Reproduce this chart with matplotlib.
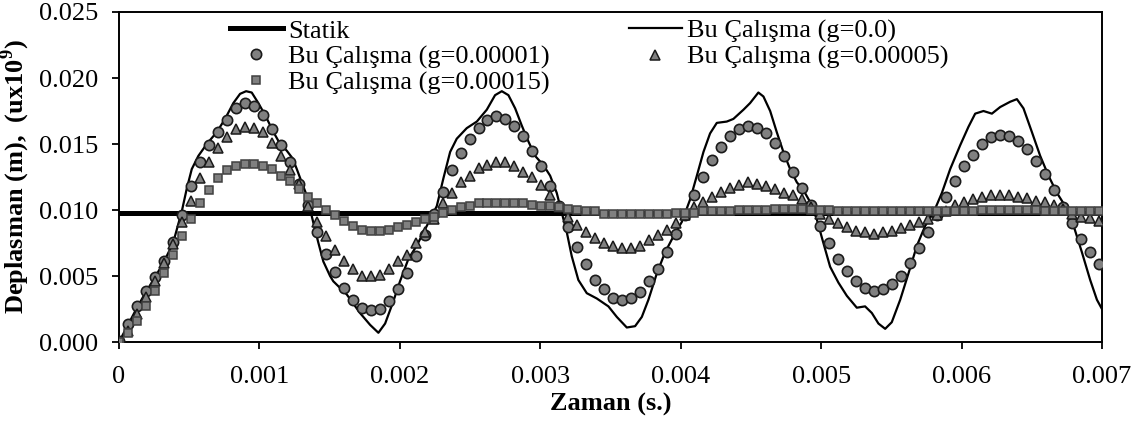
import numpy as np
import matplotlib.pyplot as plt

plt.rcParams['font.family'] = ['Liberation Serif', 'DejaVu Serif']
plt.rcParams['mathtext.fontset'] = 'custom'
plt.rcParams['mathtext.rm'] = 'Liberation Serif'
plt.rcParams['mathtext.bf'] = 'Liberation Serif:bold'

##########################################################
# Data
dt = 0.000064
t = np.arange(110) * dt

statik = 0.0098

g00001 = [0.0001, 0.0014, 0.0027, 0.0039, 0.0049, 0.0061, 0.0076, 0.0096, 0.0118, 0.0136,
          0.0149, 0.0159, 0.0168, 0.0177, 0.0181, 0.0179, 0.0172, 0.0161, 0.0149, 0.0136,
          0.0120, 0.0104, 0.0083, 0.0067, 0.0053, 0.0041, 0.0032, 0.0026, 0.0024, 0.0025,
          0.0031, 0.0040, 0.0052, 0.0065, 0.0081, 0.0097, 0.0114, 0.0130, 0.0143, 0.0154,
          0.0162, 0.0168, 0.0171, 0.0169, 0.0164, 0.0156, 0.0145, 0.0133, 0.0118, 0.0103,
          0.0087, 0.0072, 0.0059, 0.0047, 0.0040, 0.0033, 0.0032, 0.0033, 0.0038, 0.0046,
          0.0055, 0.0068, 0.0082, 0.0096, 0.0111, 0.0125, 0.0138, 0.0148, 0.0156, 0.0161,
          0.0164, 0.0162, 0.0158, 0.0151, 0.0141, 0.0129, 0.0117, 0.0104, 0.0088, 0.0075,
          0.0063, 0.0054, 0.0046, 0.0041, 0.0039, 0.0040, 0.0044, 0.0050, 0.0060, 0.0071,
          0.0083, 0.0096, 0.0110, 0.0122, 0.0133, 0.0142, 0.0150, 0.0155, 0.0157, 0.0156,
          0.0152, 0.0146, 0.0137, 0.0127, 0.0115, 0.0102, 0.0090, 0.0078, 0.0068, 0.0059]

g00005 = [0.0000, 0.0008, 0.0021, 0.0034, 0.0046, 0.0060, 0.0074, 0.0091, 0.0107, 0.0124,
          0.0136, 0.0147, 0.0155, 0.0161, 0.0163, 0.0162, 0.0159, 0.0151, 0.0141, 0.0130,
          0.0120, 0.0103, 0.0091, 0.0080, 0.0070, 0.0061, 0.0055, 0.0050, 0.0050, 0.0051,
          0.0055, 0.0061, 0.0066, 0.0075, 0.0083, 0.0093, 0.0105, 0.0113, 0.0121, 0.0126,
          0.0132, 0.0134, 0.0136, 0.0136, 0.0133, 0.0129, 0.0125, 0.0119, 0.0111, 0.0102,
          0.0095, 0.0089, 0.0083, 0.0079, 0.0075, 0.0073, 0.0071, 0.0071, 0.0073, 0.0077,
          0.0081, 0.0085, 0.0090, 0.0096, 0.0102, 0.0106, 0.0110, 0.0114, 0.0117, 0.0119,
          0.0121, 0.0120, 0.0118, 0.0116, 0.0113, 0.0111, 0.0108, 0.0102, 0.0097, 0.0093,
          0.0090, 0.0087, 0.0084, 0.0083, 0.0082, 0.0083, 0.0084, 0.0086, 0.0089, 0.0091,
          0.0093, 0.0096, 0.0099, 0.0104, 0.0106, 0.0108, 0.0110, 0.0111, 0.0111, 0.0111,
          0.0110, 0.0109, 0.0107, 0.0106, 0.0104, 0.0101, 0.0097, 0.0095, 0.0094, 0.0092]

g00015 = [0.0000, 0.0007, 0.0016, 0.0027, 0.0039, 0.0052, 0.0066, 0.0080, 0.0093, 0.0105,
          0.0115, 0.0124, 0.0130, 0.0133, 0.0135, 0.0135, 0.0133, 0.0131, 0.0126, 0.0122,
          0.0116, 0.0110, 0.0105, 0.0100, 0.0096, 0.0092, 0.0088, 0.0085, 0.0084, 0.0084,
          0.0085, 0.0087, 0.0089, 0.0091, 0.0093, 0.0095, 0.0098, 0.0100, 0.0102, 0.0103,
          0.0105, 0.0105, 0.0105, 0.0105, 0.0105, 0.0105, 0.0104, 0.0103, 0.0103, 0.0102,
          0.0101, 0.0100, 0.0099, 0.0099, 0.0097, 0.0097, 0.0097, 0.0097, 0.0097, 0.0097,
          0.0097, 0.0097, 0.0098, 0.0098, 0.0098, 0.0099, 0.0099, 0.0099, 0.0099, 0.0100,
          0.0100, 0.0100, 0.0100, 0.0101, 0.0101, 0.0101, 0.0101, 0.0100, 0.0100, 0.0100,
          0.0099, 0.0099, 0.0099, 0.0099, 0.0099, 0.0099, 0.0099, 0.0099, 0.0099, 0.0099,
          0.0099, 0.0099, 0.0099, 0.0099, 0.0099, 0.0099, 0.0100, 0.0100, 0.0100, 0.0100,
          0.0100, 0.0100, 0.0100, 0.0099, 0.0099, 0.0099, 0.0099, 0.0099, 0.0099, 0.0099]

# g=0.0 solid line
line_t = [0.0, 0.000064, 0.000128, 0.000192, 0.000256, 0.000321, 0.000385, 0.000447, 0.000482,
          0.000518, 0.000565, 0.000625, 0.000696, 0.000755, 0.000814, 0.000862, 0.000905, 0.000945,
          0.000992, 0.00104, 0.0011, 0.001147, 0.001194, 0.001237, 0.001266, 0.001301, 0.001337,
          0.00136, 0.001389, 0.00142, 0.001455, 0.001503, 0.001526, 0.001622, 0.001716, 0.001788,
          0.001847, 0.001895, 0.001954, 0.002001, 0.002061, 0.00212, 0.002192, 0.002263, 0.00231,
          0.002358, 0.002405, 0.002476, 0.002548, 0.002619, 0.002678, 0.002726, 0.002773, 0.002821,
          0.002868, 0.002915, 0.002963, 0.003022, 0.00307, 0.003117, 0.003153, 0.003189, 0.003224,
          0.003271, 0.003331, 0.003402, 0.003485, 0.003545, 0.003616, 0.003675, 0.003723, 0.00377,
          0.00383, 0.003889, 0.003948, 0.004008, 0.004067, 0.004115, 0.004162, 0.004209, 0.004257,
          0.004328, 0.004375, 0.004447, 0.004494, 0.004553, 0.004589, 0.004637, 0.004684, 0.004731,
          0.004779, 0.004827, 0.004874, 0.004922, 0.004969, 0.005016, 0.005064, 0.005123, 0.005183,
          0.005254, 0.005313, 0.005361, 0.005408, 0.005456, 0.005503, 0.005563, 0.005622, 0.005682,
          0.005741, 0.0058, 0.00586, 0.005919, 0.00599, 0.006049, 0.006097, 0.006156, 0.006216,
          0.006275, 0.006346, 0.006394, 0.006441, 0.006501, 0.00656, 0.006619, 0.006679, 0.006738,
          0.006798, 0.006857, 0.006916, 0.006964, 0.007]
line_y = [0.0, 0.0013, 0.0026, 0.0038, 0.0049, 0.0061, 0.0075, 0.0099, 0.0116,
          0.0131, 0.0141, 0.0150, 0.0159, 0.0169, 0.0181, 0.0188, 0.0190, 0.0189,
          0.0181, 0.0172, 0.0159, 0.0150, 0.0145, 0.0139, 0.0131, 0.0121, 0.0111,
          0.0101, 0.0088, 0.0075, 0.0061, 0.0050, 0.0046, 0.0036, 0.0022, 0.0013,
          0.0007, 0.0014, 0.0031, 0.0046, 0.0063, 0.0073, 0.0088, 0.0103, 0.0124,
          0.0144, 0.0154, 0.0162, 0.0167, 0.0176, 0.0187, 0.0190, 0.0187, 0.0177,
          0.0164, 0.0152, 0.0141, 0.0134, 0.0126, 0.0113, 0.0098, 0.0083, 0.0065,
          0.0047, 0.0037, 0.0033, 0.0027, 0.0019, 0.0011, 0.0012, 0.0019, 0.0032,
          0.0052, 0.0068, 0.0080, 0.0091, 0.0108, 0.0126, 0.0144, 0.0158, 0.0166,
          0.0167, 0.0169, 0.0176, 0.0181, 0.0189, 0.0186, 0.0175, 0.0159, 0.0144,
          0.0131, 0.0121, 0.0115, 0.0106, 0.0093, 0.0075, 0.0057, 0.0045, 0.0035,
          0.0026, 0.0027, 0.0022, 0.0014, 0.0010, 0.0015, 0.0032, 0.0052, 0.0073,
          0.0088, 0.0098, 0.0113, 0.0131, 0.0149, 0.0163, 0.0173, 0.0175, 0.0173,
          0.0178, 0.0182, 0.0184, 0.0177, 0.0159, 0.0141, 0.0126, 0.0113, 0.0103,
          0.0088, 0.0068, 0.0047, 0.0032, 0.0025]

xticks = [0, 0.001, 0.002, 0.003, 0.004, 0.005, 0.006, 0.007]
xticklabels = ['0', '0.001', '0.002', '0.003', '0.004', '0.005', '0.006', '0.007']
yticks = [0.0, 0.005, 0.010, 0.015, 0.020, 0.025]
yticklabels = ['0.000', '0.005', '0.010', '0.015', '0.020', '0.025']

##########################################################
fig = plt.figure(figsize=(11.39, 4.21), dpi=100)
ax = fig.add_axes([0.1045, 0.1876, 0.863, 0.7839])

fs = 19
ax.plot([0, 0.007], [statik, statik], color='black', lw=3.6, label='Statik', zorder=2)
ax.plot(line_t, line_y, color='black', lw=1.6, label='Bu Çalışma (g=0.0)', zorder=3)
ax.plot(t, g00001, 'o', ms=7.4, mfc='#808080', mec='#1a1a1a', mew=1.2,
        label='Bu Çalışma (g=0.00001)', zorder=4)
ax.plot(t, g00005, '^', ms=7.8, mfc='#808080', mec='#1a1a1a', mew=1.1,
        label='Bu Çalışma (g=0.00005)', zorder=5)
ax.plot(t, g00015, 's', ms=5.4, mfc='#808080', mec='#404040', mew=1.1,
        label='Bu Çalışma (g=0.00015)', zorder=6)

ax.set_xlim(0, 0.007)
ax.set_ylim(0, 0.025)
ax.set_xticks(xticks)
ax.set_xticklabels(xticklabels)
ax.set_yticks(yticks)
ax.set_yticklabels(yticklabels)
ax.tick_params(axis='x', direction='out', length=5, width=1.3, labelsize=fs, pad=12)
ax.tick_params(axis='y', direction='out', length=5, width=1.3, labelsize=fs, pad=10)
for s in ax.spines.values():
    s.set_linewidth(1.4)

ax.set_xlabel('Zaman (s.)', fontsize=fs, fontweight='bold', labelpad=4)
ax.set_ylabel(r'Deplasman (m),  (ux10$^{\mathbf{9}}$)', fontsize=fs, fontweight='bold', labelpad=5)

h, l = ax.get_legend_handles_labels()
order = [0, 2, 4, 1, 3]
ax.legend([h[i] for i in order], [l[i] for i in order], ncol=2, loc='upper left',
          bbox_to_anchor=(0.113, 0.978), frameon=False, fontsize=fs, borderpad=0,
          borderaxespad=0, labelspacing=0.08, handletextpad=0.2, columnspacing=3.0,
          handlelength=2.0)

plt.savefig('out.png', dpi=100)
